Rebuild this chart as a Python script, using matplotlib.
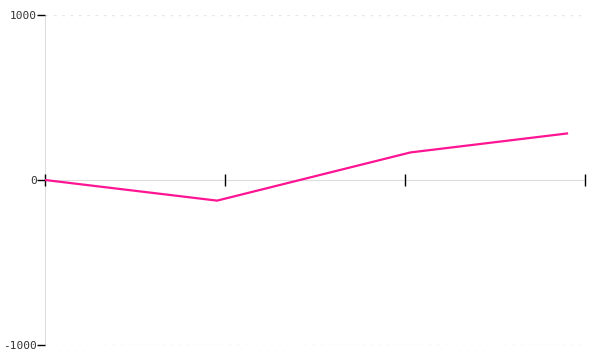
import matplotlib
matplotlib.use("Agg")
import matplotlib.pyplot as plt

x_vals = [0, 0.956, 2.03, 2.9]
y_vals = [0, -125, 167, 282]
x_ticks = [0, 1, 2, 3]
y_ticks = [-1000, 0, 1000]

fig = plt.figure(figsize=(6, 3.6), dpi=100)
ax = fig.add_axes([0.075, 0.0417, 0.9, 0.9166])

ax.set_xlim(0, 3)
ax.set_ylim(-1000, 1000)

# dotted grid at the outer y ticks
for yv in y_ticks:
    if yv != 0:
        ax.axhline(yv, color="#e6e6e6", lw=1, ls=(0, (2, 4)), zorder=0)

ax.plot(x_vals, y_vals, color="#ff1493", lw=1.6, zorder=3)

for s in ["top", "right"]:
    ax.spines[s].set_visible(False)
ax.spines["left"].set_color("#dddddd")
ax.spines["left"].set_zorder(0)
ax.spines["bottom"].set_position(("data", 0))
ax.spines["bottom"].set_color("#dddddd")
ax.spines["bottom"].set_zorder(0)

ax.set_xticks(x_ticks)
ax.set_xticklabels([])
ax.tick_params(axis="x", direction="inout", length=8, width=1, color="black")

ax.set_yticks(y_ticks)
ax.set_yticklabels([str(v) for v in y_ticks], family="DejaVu Sans Mono",
                   fontsize=8, color="#333333")
ax.tick_params(axis="y", length=6, width=1, color="black", pad=0)

fig.savefig("out.png")
